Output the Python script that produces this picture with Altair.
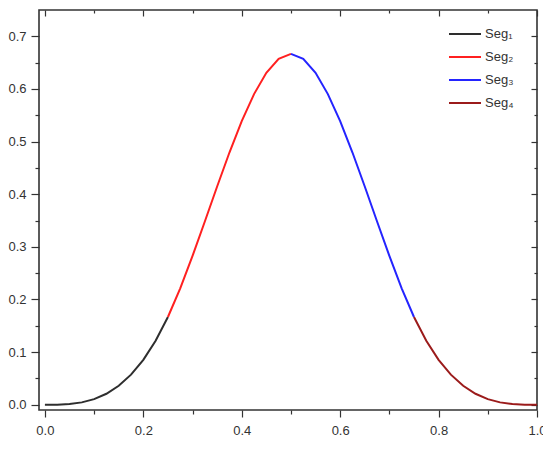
import altair as alt
import pandas as pd

# ---- data (four cubic segments) ----
seg_names = ["Seg₁", "Seg₂", "Seg₃", "Seg₄"]
seg_colors = ["#2e2e2e", "#ff2020", "#2424ff", "#9b1b1b"]

x1 = [0.000, 0.025, 0.050, 0.075, 0.100, 0.125, 0.150, 0.175, 0.200, 0.225, 0.250]
y1 = [0.0000, 0.0002, 0.0013, 0.0045, 0.0107, 0.0208, 0.0360, 0.0572, 0.0853, 0.1215, 0.1667]

x2 = [0.250, 0.275, 0.300, 0.325, 0.350, 0.375, 0.400, 0.425, 0.450, 0.475, 0.500]
y2 = [0.1667, 0.2212, 0.2827, 0.3482, 0.4147, 0.4792, 0.5387, 0.5902, 0.6307, 0.6572, 0.6667]

x3 = [0.500, 0.525, 0.550, 0.575, 0.600, 0.625, 0.650, 0.675, 0.700, 0.725, 0.750]
y3 = [0.6667, 0.6572, 0.6307, 0.5902, 0.5387, 0.4792, 0.4147, 0.3482, 0.2827, 0.2212, 0.1667]

x4 = [0.750, 0.775, 0.800, 0.825, 0.850, 0.875, 0.900, 0.925, 0.950, 0.975, 1.000]
y4 = [0.1667, 0.1215, 0.0853, 0.0572, 0.0360, 0.0208, 0.0107, 0.0045, 0.0013, 0.0002, 0.0000]

x_major = [0.0, 0.2, 0.4, 0.6, 0.8, 1.0]
x_minor = [0.1, 0.3, 0.5, 0.7, 0.9]
y_major = [0.0, 0.1, 0.2, 0.3, 0.4, 0.5, 0.6, 0.7]
y_minor = [0.05, 0.15, 0.25, 0.35, 0.45, 0.55, 0.65]

rows = []
for name, xs, ys in zip(seg_names, [x1, x2, x3, x4], [y1, y2, y3, y4]):
    for i, (xv, yv) in enumerate(zip(xs, ys)):
        rows.append({"x": xv, "y": yv, "seg": name, "i": i})
df = pd.DataFrame(rows)

W, H = 498, 400
FONT = "Liberation Sans"
INK = "#333333"

xs = alt.Scale(domain=[-0.012, 1.0], nice=False, zero=False)
ys = alt.Scale(domain=[-0.01, 0.75], nice=False, zero=False)


def ax(values, orient, size, labels=False, offset=0, pad=6):
    kw = dict(values=values, orient=orient, tickSize=size, labels=labels,
              domain=False, grid=False, title=None, tickColor=INK,
              tickWidth=1.2, offset=offset)
    if labels:
        kw.update(format=".1f", labelFont=FONT, labelFontSize=13,
                  labelColor=INK, labelPadding=pad, labelOverlap=False,
                  labelFlush=False, labelBound=False)
    return alt.Axis(**kw)


lines = alt.Chart(df).mark_line(strokeWidth=2).encode(
    x=alt.X("x:Q", scale=xs, axis=ax(x_major, "bottom", 7, labels=True, pad=7)),
    y=alt.Y("y:Q", scale=ys, axis=ax(y_major, "left", 8, labels=True, pad=5)),
    color=alt.Color(
        "seg:N",
        scale=alt.Scale(domain=seg_names, range=seg_colors),
        legend=alt.Legend(
            title=None, orient="none", legendX=415, legendY=13,
            symbolType="M-1.6,0H1.6", symbolSize=400, symbolStrokeWidth=2,
            labelFont=FONT, labelFontSize=13, labelColor=INK,
            labelOffset=9, rowPadding=5, padding=0,
        ),
    ),
    order="i:Q",
)


def ghost(xaxis, yaxis):
    return alt.Chart(df).mark_point(opacity=0).encode(
        x=alt.X("x:Q", scale=xs, axis=xaxis),
        y=alt.Y("y:Q", scale=ys, axis=yaxis),
    )


minor_lb = ghost(ax(x_minor, "bottom", 4), ax(y_minor, "left", 4))
major_tr = ghost(ax(x_major, "bottom", 6, offset=-H), ax(y_major, "left", 6, offset=-W))
minor_tr = ghost(ax(x_minor, "bottom", 3, offset=-H), ax(y_minor, "left", 3, offset=-W))

chart = (
    alt.layer(lines, minor_lb, major_tr, minor_tr)
    .resolve_axis(x="independent", y="independent")
    .properties(
        width=W, height=H,
        autosize=alt.AutoSizeParams(type="none"),
        padding={"left": 39, "top": 10, "right": 6, "bottom": 42},
        background="white",
    )
    .configure_view(stroke=INK, strokeWidth=1.6)
)

chart.save("out.html", embed_options={"renderer": "svg", "actions": False})
